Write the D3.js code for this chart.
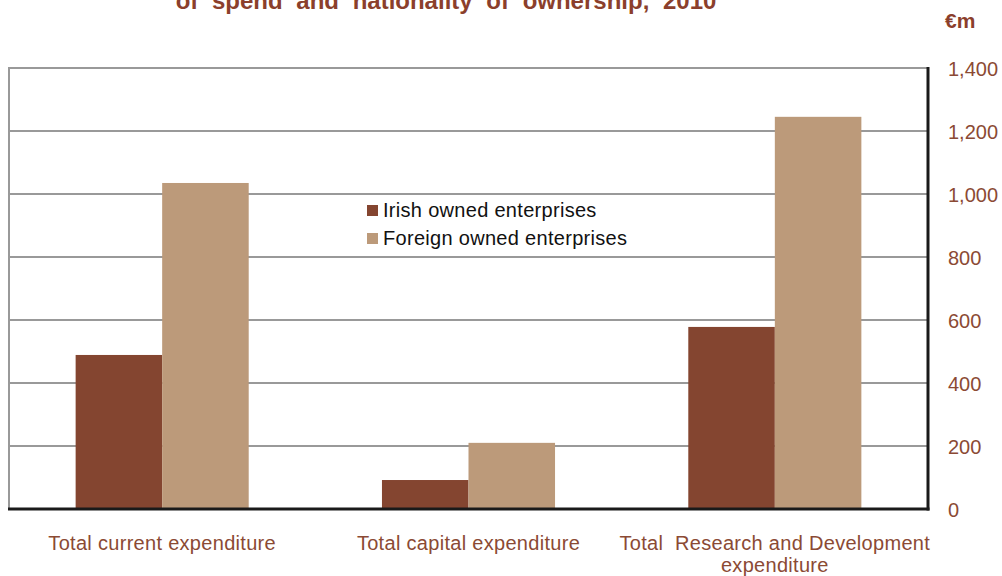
<!DOCTYPE html>
<html><head><meta charset="utf-8">
<script src="https://cdn.jsdelivr.net/npm/d3@7"></script>
<style>body{margin:0;background:#fff;} svg{display:block;font-family:"Liberation Sans",Arial,sans-serif;}</style>
</head><body>
<svg id="c" width="1002" height="576"></svg>
<script>
const categories = ["Total current expenditure", "Total capital expenditure", "Total  Research and Development|expenditure"];
const seriesNames = ["Irish owned enterprises", "Foreign owned enterprises"];
const irish = [489, 92, 578];
const foreign = [1035, 210, 1245];
const yTicks = [0, 200, 400, 600, 800, 1000, 1200, 1400];
const colors = ["#844530", "#bc9a7a"];
const textCol = "#8b4a34";

const svg = d3.select("#c");
const L = 9, R = 928, T = 68, B = 509;
const x = d3.scaleBand().domain(categories).range([L, R]).paddingInner(0).paddingOuter(0);
const x1 = d3.scaleBand().domain(seriesNames).range([0, x.bandwidth()]).paddingOuter(0.77).paddingInner(0);
const y = d3.scaleLinear().domain([0, 1400]).range([B, T]);

// title (cut off at top, as in the reference)
svg.append("text").attr("x", 446).attr("y", 9).attr("text-anchor", "middle")
  .attr("font-weight", "bold").attr("font-size", 24).attr("fill", "#8b3f2c")
  .attr("word-spacing", 7)
  .text("of spend and nationality of ownership, 2010");
svg.append("text").attr("x", 945).attr("y", 28).attr("font-weight", "bold")
  .attr("font-size", 21).attr("fill", "#8b3f2c").text("€m");

// gridlines
svg.append("g").selectAll("line").data(yTicks.filter(d => d > 0)).join("line")
  .attr("x1", L).attr("x2", R).attr("y1", d => y(d)).attr("y2", d => y(d))
  .attr("stroke", "#999").attr("stroke-width", 2);
// left border
svg.append("line").attr("x1", L).attr("x2", L).attr("y1", T - 1).attr("y2", B)
  .attr("stroke", "#999").attr("stroke-width", 2);

// bars
const data = categories.map((c, i) => ({ c, vals: [irish[i], foreign[i]] }));
const g = svg.append("g").selectAll("g").data(data).join("g")
  .attr("transform", d => `translate(${x(d.c)},0)`);
g.selectAll("rect").data(d => d.vals.map((v, j) => ({ v, s: seriesNames[j], j })))
  .join("rect")
  .attr("x", d => x1(d.s)).attr("width", x1.bandwidth())
  .attr("y", d => y(d.v)).attr("height", d => B - y(d.v))
  .attr("fill", d => colors[d.j]);

// axes lines
svg.append("line").attr("x1", L - 1).attr("x2", R + 1.5).attr("y1", B).attr("y2", B)
  .attr("stroke", "#1a1a1a").attr("stroke-width", 3);
svg.append("line").attr("x1", R).attr("x2", R).attr("y1", T - 1).attr("y2", B + 1.5)
  .attr("stroke", "#1a1a1a").attr("stroke-width", 3);

// right axis labels
const yAxis = d3.axisRight(y).tickValues(yTicks).tickSize(0).tickPadding(0)
  .tickFormat(d3.format(","));
const ya = svg.append("g").attr("transform", `translate(948,0)`).call(yAxis);
ya.select(".domain").remove();
ya.selectAll("text").attr("font-size", 20).attr("fill", textCol)
  .attr("font-family", "Liberation Sans, Arial, sans-serif").attr("dy", "0.35em");

// category labels
const cl = svg.append("g").selectAll("text").data(categories).join("text")
  .attr("x", d => x(d) + x.bandwidth() / 2).attr("y", 550)
  .attr("text-anchor", "middle").attr("font-size", 20).attr("fill", textCol)
  .attr("letter-spacing", 0.3).style("white-space", "pre");
cl.each(function (d) {
  const parts = d.split("|");
  const t = d3.select(this);
  parts.forEach((p, i) => t.append("tspan").attr("x", x(d) + x.bandwidth() / 2)
    .attr("dy", i === 0 ? 0 : 22).text(p));
});

// legend
const lg = svg.append("g").selectAll("g").data(seriesNames).join("g")
  .attr("transform", (d, i) => `translate(367,${205 + i * 28})`);
lg.append("rect").attr("width", 11).attr("height", 11).attr("fill", (d, i) => colors[i]);
lg.append("text").attr("x", 16).attr("y", 12).attr("font-size", 20).attr("fill", "#111")
  .attr("letter-spacing", 0.3).text(d => d);
</script>
</body></html>
